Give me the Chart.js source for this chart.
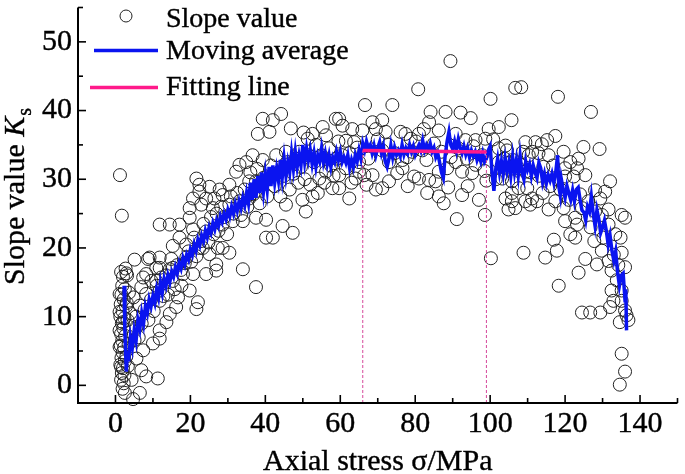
<!DOCTYPE html>
<html><head><meta charset="utf-8">
<script src="https://cdn.jsdelivr.net/npm/chart.js@4/dist/chart.umd.min.js"></script>
<style>html,body{margin:0;padding:0;background:#fff;}canvas{display:block;}</style>
</head><body>
<canvas id="c" width="685" height="474" style="width:685px;height:474px"></canvas>
<script>
// ---- tick labels ----
const xTicks = [0, 20, 40, 60, 80, 100, 120, 140];
const xMinorTicks = [10, 30, 50, 70, 90, 110, 130, 150];
const yTicks = [0, 10, 20, 30, 40, 50];
const yMinorTicks = [5, 15, 25, 35, 45, 55];
const xRange = [-10, 150];
const yRange = [-2.57, 55];

// ---- series names ----
const seriesNames = ['Slope value', 'Moving average', 'Fitting line'];

// ---- slope values [axial stress MPa, Ks] ----
const slopeRise = [
[1.2,30.6],[1.7,24.7],[1.5,16.5],[2.0,15.8],[1.8,14.5],[2.5,14.0],[1.6,13.2],[2.2,12.5],[1.4,11.8],[2.8,11.5],[1.9,10.8],[1.3,10.0],[2.4,9.8],[1.7,9.0],[2.1,8.3],[1.5,7.5],[2.6,7.2],[1.8,6.5],[1.4,5.8],[2.3,5.5],[1.9,4.8],[1.6,4.0],[2.5,3.5],[1.3,3.0],[2.0,2.5],[1.7,1.8],[2.4,1.5],[1.5,0.8],[2.2,0.3],[1.9,-0.5],[2.5,-1.1],[4.7,-2.0],[6.5,-1.1],[4.3,0.8],[8.2,1.3],[11.3,1.0],
[3.0,12.0],[3.2,9.5],[3.5,6.0],[2.9,4.2],[3.3,2.8],[3.1,16.0],[2.7,17.0],[3.6,13.5],
[5.1,18.3],[8.7,18.4],[11.8,18.6],[14.9,18.4],[2.9,16.3],[10.9,17.1],[14.5,16.9],[18.9,18.6],[21.6,18.8],[23.3,20.0],[27.3,20.0],[30.4,19.3],[34.0,16.9],[37.5,14.3],[1.1,13.3],[6.9,14.3],[9.6,15.2],[12.2,15.7],[15.3,15.2],[17.6,14.5],[19.8,13.8],[22.0,12.1],[21.6,11.1],[16.2,11.4],[14.5,10.4],[13.6,9.2],[11.8,8.0],[11.8,6.8],[10.0,6.1],[7.4,5.1],[5.6,3.9],[6.9,2.2],[1.5,2.7],[1.1,5.6],[1.1,8.0],[1.1,10.7],[2.0,9.2],[5.1,6.6],[5.6,8.5],[6.5,11.6],[8.2,13.3],[11.8,12.3],[7.4,15.7],[16.7,12.8],
[39.3,38.8],[42.0,38.6],[44.2,39.5],[41.1,36.9],[38.0,36.6],[46.8,37.4],[55.3,37.6],[58.8,38.8],[52.6,36.6],[56.2,36.4],[51.3,35.9],[49.1,34.0],[45.5,34.0],[42.9,33.5],[39.3,32.8],[36.6,33.5],[34.9,32.5],[33.1,32.1],[32.2,31.1],[37.5,29.7],[35.7,29.7],[30.4,29.2],[27.8,28.5],[25.1,28.9],[22.4,29.2],[21.6,30.1],[22.4,28.2],[20.7,27.2],[24.2,27.2],[26.4,27.2],[28.6,27.7],[19.8,25.8],[22.9,26.3],[26.0,25.8],[30.4,26.3],[33.1,26.8],[35.7,27.2],[11.8,23.4],[14.5,23.4],[17.1,23.4],[19.8,24.4],[20.7,22.7],[24.2,22.4],[28.6,23.4],[31.3,23.9],[34.0,23.9],[37.5,24.4],[40.2,24.1],[44.6,23.2],[47.3,22.2],[40.2,21.5],[42.0,21.5],[17.1,21.5],[15.3,20.3],[18.9,20.5],[22.4,20.0],[25.1,19.1],[28.6,20.0],[26.9,17.6],[26.9,16.7],[24.2,16.2],[20.7,16.2],[18.0,16.2],[15.3,17.1],[11.8,17.1],[9.1,18.6],[8.2,16.2],[10.9,15.2],[11.8,13.8],[50.8,25.3],[52.6,27.5],[49.9,27.0],[45.5,26.3],[57.9,28.7],[56.2,31.1],[54.4,30.1],
[4.0,10.5],[4.8,12.8],[5.5,10.0],[6.2,7.0],[7.0,9.0],[7.8,11.0],[8.8,9.5],[9.5,12.5],[10.2,10.8],[11.0,14.5],[12.8,13.0],[13.5,16.0],[14.0,13.2],[15.8,14.0],[16.5,17.5],[17.5,16.8],[18.5,17.8],[19.5,19.5],[20.2,18.0],[21.0,21.5],[22.8,21.0],[23.5,23.5],[24.8,20.8],[25.5,24.5],[26.2,22.0],[27.0,25.0],[27.5,22.5],[28.2,26.0],[29.0,24.5],[29.8,22.0],[30.8,27.5],[31.5,25.0],[32.5,28.0],[33.5,24.8],[34.5,28.5],[35.2,26.0],[36.0,31.0],[36.8,27.8],[37.8,31.5],[38.5,26.5],[39.5,30.2],[40.5,27.5],[41.5,32.0],[42.5,29.0],[43.5,31.0],[44.0,27.5],[45.0,30.5],[46.0,32.5],[46.5,28.5],[47.5,30.8],[48.2,33.0],[48.8,29.5],[49.5,31.8],[50.2,36.8],[50.5,30.0],[51.5,33.5],[52.0,29.2],[53.0,32.5],[53.5,35.0],[54.0,28.0],[55.0,33.5],[55.8,29.5],[57.0,34.5],[57.5,32.0],[58.2,30.5],[59.0,33.0],[59.5,35.5]
];
const slopePeak = [
[80.8,43.1],[73.9,40.8],[66.6,40.8],[100.1,41.7],[89.4,47.2],[84.1,39.8],[88.1,39.8],[92.1,39.7],[94.8,38.9],[99.6,37.3],[83.7,38.3],[82.3,37.3],[86.3,37.1],[90.8,36.6],[93.4,35.7],[96.1,35.7],[98.7,35.9],[77.4,36.6],[78.8,35.9],[81.0,36.6],[76.1,36.9],[72.1,36.9],[71.2,38.6],[68.6,38.3],[69.5,37.3],[65.9,37.1],[63.2,37.3],[60.6,37.8],[63.7,35.4],[61.5,35.6],[59.7,38.8],[96.1,32.1],[92.5,31.1],[95.2,30.9],[90.8,32.5],[88.5,31.6],[86.3,31.1],[85.4,29.7],[83.7,29.9],[81.0,30.1],[79.7,30.4],[76.6,31.6],[75.2,30.9],[73.0,29.7],[71.2,28.7],[69.5,28.5],[68.6,30.6],[66.4,30.6],[65.0,31.1],[61.5,31.6],[59.7,30.6],[62.4,27.2],[83.2,28.0],[86.3,27.5],[87.6,26.5],[92.5,27.7],[97.0,27.0],[73.0,32.5],[76.6,32.8],[71.2,34.2],[65.0,32.5],[81.9,34.2],[79.2,34.0],[59.7,28.7],[64.1,30.1],
[67.5,33.0],[70.0,35.8],[72.8,35.0],[74.5,33.8],[77.8,33.2],[80.2,35.5],[83.0,32.8],[85.0,35.2],[87.0,34.0],[89.5,33.2],[91.5,34.5],[93.8,33.0],[95.5,34.8],[97.8,33.5],[98.5,31.2],[62.5,33.8],[64.5,34.6],[60.5,33.5],[63.0,29.5],[67.0,29.2],[78.0,29.0],[88.8,28.8],[94.0,29.0],[99.0,29.8],[91.1,24.2],[98.6,24.8],[100.2,18.5]
];
const slopeFall = [
[106.7,43.3],[108.3,43.4],[118.1,42.0],[126.9,39.8],[105.7,38.6],[102.3,37.6],[117.4,36.3],[115.2,35.7],[109.4,35.4],[112.1,35.4],[113.8,35.1],[124.9,34.7],[129.2,34.4],[102.3,34.5],[104.5,34.2],[111.2,34.0],[112.9,33.8],[115.6,33.5],[119.6,34.0],[123.6,33.0],[121.4,32.5],[120.0,31.6],[123.2,31.6],[125.4,30.6],[122.3,30.4],[120.0,30.4],[128.0,28.4],[132.0,29.7],[130.7,28.2],[129.4,27.2],[131.6,25.6],[126.2,26.8],[124.5,25.8],[135.1,24.8],[136.0,24.4],[117.4,26.8],[119.6,25.8],[122.7,24.4],[120.0,23.9],[121.4,22.0],[122.7,21.5],[123.2,23.4],[128.0,25.3],[129.8,24.8],[131.6,23.4],[133.4,22.0],[135.1,19.3],[136.0,17.2],[125.4,18.4],[128.5,17.6],[129.8,19.6],[131.6,18.1],[132.4,16.7],[133.8,15.3],[135.1,13.8],[132.4,13.8],[132.9,12.3],[135.1,12.3],[136.0,10.9],[136.4,10.2],[134.6,9.2],[136.9,9.5],[124.5,10.6],[126.7,10.6],[129.4,10.6],[132.0,11.4],[123.6,16.4],[118.3,14.5],[117.0,21.2],[117.8,19.6],[114.7,18.6],[108.9,19.3],[104.9,25.6],[106.7,25.8],[104.1,27.2],[105.8,26.8],[111.2,27.2],[112.5,26.8],[115.6,25.6],[103.2,30.1],[105.8,29.7],[107.6,28.7],[109.9,28.7],[102.3,32.5],[104.1,31.6],[107.6,31.6],[109.4,31.1],[135.1,4.6],[136.0,2.0],[134.6,0.1],
[104.1,34.9],[105.8,28.0],[109.4,26.8],[110.7,26.3],[110.3,33.5],[108.1,32.1],
[113.0,30.5],[116.0,29.0],[118.8,28.5],[121.0,27.0],[124.0,27.8],[126.8,23.0],[127.8,21.0],[130.2,21.5],[133.0,19.0],[134.2,17.5],[134.8,21.5],[100.8,35.8],[101.5,30.0],[103.8,33.0],[106.0,32.8],[108.8,34.0],[110.8,31.0],[114.2,31.8],[116.8,32.0],[114.0,28.0]
];

// ---- moving average [axial stress MPa, Ks] ----
const movingAvg = [
[2.3,14.5],[2.5,8.0],[2.9,2.0],[3.2,5.0],[3.5,3.5],[4.0,7.0],[4.5,5.5],[5.0,8.0],[5.5,6.5],[6.0,9.5],[6.5,8.2],[7.0,10.5],[7.5,9.0],[8.0,11.5],[8.5,10.5],[9.0,12.5],[9.5,11.5],[10.0,13.0],[10.5,12.0],[11.0,14.0],[11.5,12.8],[12.0,15.0],[12.5,13.5],[13.0,15.5],[13.5,14.5],[14.0,16.0],[14.5,15.0],[15.0,16.5],[15.5,15.8],[16.0,17.2],[16.5,16.3],[17.0,17.8],[17.5,17.0],[18.0,18.5],[18.5,17.6],[19.0,19.0],[19.5,18.3],[20.0,19.8],[20.5,19.0],[21.0,20.5],[21.5,19.6],[22.0,21.2],[22.5,20.4],[23.0,21.8],[23.5,21.0],[24.0,22.5],[24.5,21.6],[25.0,23.0],[25.5,22.2],[26.0,23.6],[26.5,22.7],[27.0,24.0],[27.5,23.2],[28.0,24.6],[28.5,23.8],[29.0,25.0],[29.5,24.2],[30.0,25.5],[30.5,24.6],[31.0,26.0],[31.5,25.0],[32.0,26.4],[32.5,25.4],[33.0,26.8],[33.5,25.8],[34.0,27.3],[34.5,26.2],[35.0,28.0],[35.5,26.5],[36.0,29.5],[36.5,27.0],[37.0,30.0],[37.5,27.3],[38.0,30.5],[38.5,28.0],[39.0,31.0],[39.5,28.2],[40.0,30.8],[40.5,28.5],[41.0,31.8],[41.5,29.0],[42.0,32.0],[42.5,29.5],[43.0,31.5],[43.5,29.8],[44.0,32.8],[44.5,30.2],[45.0,33.0],[45.5,30.5],[46.0,32.5],[46.5,31.0],[47.0,33.8],[47.5,31.5],[48.0,34.0],[48.5,31.8],[49.0,33.5],[49.5,32.0],[50.0,35.0],[50.5,32.5],[51.0,34.5],[51.5,32.8],[52.0,34.2],[52.5,32.2],[53.0,33.8],[53.5,31.8],[54.0,33.5],[54.5,32.6],[55.0,34.5],[55.5,32.5],[56.0,33.8],[56.5,32.2],[57.0,33.5],[57.5,31.8],[58.0,33.2],[58.5,32.5],[59.0,34.0],[59.5,32.8],[60.0,34.0],[60.5,32.5],[61.0,33.2],[61.5,32.4],[62.0,33.5],[62.5,31.6],[63.0,32.8],[63.5,31.8],[64.0,33.5],[64.5,32.6],[65.0,34.2],[65.5,33.0],[66.0,35.2],[66.5,34.2],[67.0,35.5],[67.5,34.5],[68.0,35.0],[68.5,33.8],[69.0,34.9],[69.5,33.5],[70.0,34.6],[70.5,35.4],[71.0,33.8],[71.5,34.8],[72.0,32.6],[72.5,31.8],[73.0,33.0],[73.5,34.9],[74.0,33.2],[74.5,34.6],[75.0,33.6],[75.5,34.2],[76.0,33.4],[76.5,35.0],[77.0,33.6],[77.5,34.5],[78.0,33.8],[78.5,35.0],[79.0,34.0],[79.5,34.8],[80.0,33.6],[80.5,34.4],[81.0,35.0],[81.5,34.2],[82.0,35.6],[82.5,34.2],[83.0,35.0],[83.5,34.4],[84.0,35.2],[84.5,34.0],[85.0,34.6],[85.5,33.2],[86.0,33.8],[86.5,32.5],[87.0,31.0],[87.5,30.2],[88.0,33.5],[88.5,35.5],[89.0,36.9],[89.5,35.0],[90.0,34.4],[90.5,35.5],[91.0,34.2],[91.5,35.8],[92.0,34.6],[92.5,33.8],[93.0,34.8],[93.5,33.6],[94.0,34.5],[94.5,33.2],[95.0,34.2],[95.5,33.4],[96.0,34.0],[96.5,32.8],[97.0,33.6],[97.5,32.6],[98.0,33.8],[98.5,32.5],[99.0,33.0],[99.5,34.2],[100.0,34.8],[100.5,31.0],[101.0,28.3],[101.5,31.5],[102.0,33.0],[102.5,31.0],[103.0,32.6],[103.5,30.8],[104.0,33.0],[104.5,31.2],[105.0,32.5],[105.5,30.5],[106.0,33.2],[106.5,31.0],[107.0,32.8],[107.5,30.6],[108.0,33.4],[108.5,31.0],[109.0,30.0],[109.5,32.6],[110.0,31.4],[110.5,32.2],[111.0,30.5],[111.5,32.0],[112.0,31.0],[112.5,30.2],[113.0,32.4],[113.5,31.6],[114.0,29.6],[114.5,30.8],[115.0,29.4],[115.5,30.6],[116.0,29.8],[116.5,30.8],[117.0,29.5],[117.5,31.0],[118.0,33.5],[118.3,29.0],[118.7,27.7],[119.0,30.0],[119.5,28.5],[120.0,27.3],[120.5,29.0],[121.0,28.0],[121.5,27.0],[122.0,28.4],[122.5,26.8],[123.0,28.5],[123.5,28.8],[124.0,27.0],[124.5,25.5],[125.0,25.2],[125.5,24.0],[126.0,26.0],[126.5,25.3],[127.0,27.5],[127.5,25.0],[128.0,23.2],[128.5,25.5],[129.0,24.2],[129.5,22.2],[130.0,23.0],[130.5,24.0],[131.0,22.5],[131.5,20.5],[132.0,21.8],[132.5,19.6],[133.0,18.2],[133.5,19.5],[134.0,16.5],[134.5,14.5],[135.0,16.0],[135.5,16.3],[136.0,12.3],[136.2,14.0],[136.4,8.0]
];

// ---- fitting line ----
const fitStress = [66, 99];
const fitK = [34.2, 33.95];

const FONT = '"Liberation Serif", "Times New Roman", serif';
const toPts = arr => arr.map(p => ({x: p[0], y: p[1]}));

const guideSets = fitStress.map((s, i) => ({
  type: 'scatter', showLine: true, order: 1,
  data: [{x: s, y: yRange[0]}, {x: s, y: fitK[i]}],
  borderColor: '#d6479a', borderWidth: 1, borderDash: [3, 2],
  pointRadius: 0, fill: false
}));

const noPad = s => { s.paddingTop = 0; s.paddingBottom = 0; s.paddingLeft = 0; s.paddingRight = 0; };

const decor = {
  id: 'decor',
  afterDraw(chart) {
    const {ctx, chartArea: a, scales: {x, y}} = chart;
    ctx.save();
    ctx.strokeStyle = '#000';
    ctx.lineWidth = 2;
    ctx.beginPath();
    ctx.moveTo(a.left, a.top); ctx.lineTo(a.left, a.bottom); ctx.lineTo(a.right, a.bottom);
    ctx.stroke();
    ctx.lineWidth = 1.6;
    const seg = (x1, y1, x2, y2) => { ctx.beginPath(); ctx.moveTo(x1, y1); ctx.lineTo(x2, y2); ctx.stroke(); };
    xTicks.forEach(v => { const p = x.getPixelForValue(v); seg(p, a.bottom, p, a.bottom - 8); });
    xMinorTicks.forEach(v => { const p = x.getPixelForValue(v); seg(p, a.bottom, p, a.bottom - 5); });
    yTicks.forEach(v => { const p = y.getPixelForValue(v); seg(a.left, p, a.left + 8, p); });
    yMinorTicks.forEach(v => { const p = y.getPixelForValue(v); seg(a.left, p, a.left + 5, p); });

    const txt = (t, px, py) => { ctx.fillText(t, px, py); ctx.lineWidth = 0.4; ctx.strokeStyle = '#000'; ctx.strokeText(t, px, py); };

    // legend
    ctx.fillStyle = '#000';
    ctx.font = '28px ' + FONT;
    ctx.textBaseline = 'alphabetic';
    ctx.textAlign = 'left';
    ctx.lineWidth = 1;
    ctx.strokeStyle = '#222';
    ctx.beginPath(); ctx.arc(126, 16, 6, 0, Math.PI * 2); ctx.stroke();
    txt(seriesNames[0], 166, 27);
    ctx.strokeStyle = '#0a14f0'; ctx.lineWidth = 3.5;
    seg(94, 50.5, 158, 50.5);
    txt(seriesNames[1], 166, 58.5);
    ctx.strokeStyle = '#ff1a8a'; ctx.lineWidth = 3.5;
    seg(90, 87.5, 158, 87.5);
    txt(seriesNames[2], 166, 95);

    // x title
    ctx.font = '30px ' + FONT;
    ctx.textAlign = 'center';
    txt('Axial stress σ/MPa', (a.left + a.right) / 2, 470);

    // y title
    ctx.translate(24, 197);
    ctx.rotate(-Math.PI / 2);
    ctx.textAlign = 'left';
    const p1 = 'Slope value ', p2 = 'K', p3 = 's';
    ctx.font = '30px ' + FONT; const w1 = ctx.measureText(p1).width;
    ctx.font = 'italic 30px ' + FONT; const w2 = ctx.measureText(p2).width;
    ctx.font = '20px ' + FONT; const w3 = ctx.measureText(p3).width;
    let sx = -(w1 + w2 + w3) / 2;
    ctx.font = '30px ' + FONT; txt(p1, sx, 0); sx += w1;
    ctx.font = 'italic 30px ' + FONT; txt(p2, sx, 0); sx += w2 + 1;
    ctx.font = '20px ' + FONT; txt(p3, sx, 7);
    ctx.restore();
  }
};

new Chart(document.getElementById('c'), {
  type: 'scatter',
  data: {
    datasets: [
      {
        label: seriesNames[2], type: 'scatter', showLine: true, order: 0,
        data: fitStress.map((s, i) => ({x: s, y: fitK[i]})),
        borderColor: '#ff1a8a', borderWidth: 3.5, pointRadius: 0, fill: false
      },
      ...guideSets,
      {
        label: seriesNames[1], type: 'scatter', showLine: true, order: 2,
        data: toPts(movingAvg),
        borderColor: '#0a14f0', borderWidth: 3.5, pointRadius: 0, fill: false, tension: 0
      },
      {
        label: seriesNames[0], order: 3, clip: false,
        data: toPts([...slopeRise, ...slopePeak, ...slopeFall]),
        pointRadius: 6.5, pointBorderWidth: 1, pointBorderColor: '#222',
        pointBackgroundColor: 'rgba(0,0,0,0)', showLine: false
      }
    ]
  },
  options: {
    responsive: false, devicePixelRatio: 1, animation: false,
    layout: {padding: {top: 3, right: 4, left: 0, bottom: 0}},
    plugins: {legend: {display: false}, tooltip: {enabled: false}},
    scales: {
      x: {
        type: 'linear', min: xRange[0], max: xRange[1],
        afterBuildTicks: s => { s.ticks = xTicks.map(v => ({value: v})); },
        afterFit: s => { s.height = 71; noPad(s); },
        grid: {display: false, drawTicks: false}, border: {display: false},
        ticks: {font: {family: FONT, size: 30}, color: '#000', padding: 3, maxRotation: 0, autoSkip: false,
                textStrokeColor: '#000', textStrokeWidth: 0.4}
      },
      y: {
        type: 'linear', min: yRange[0], max: yRange[1],
        afterBuildTicks: s => { s.ticks = yTicks.map(v => ({value: v})); },
        afterFit: s => { s.width = 78; noPad(s); },
        grid: {display: false, drawTicks: false}, border: {display: false},
        ticks: {font: {family: FONT, size: 30}, color: '#000', padding: 6, autoSkip: false,
                textStrokeColor: '#000', textStrokeWidth: 0.4}
      }
    }
  },
  plugins: [decor]
});
</script>
</body></html>
